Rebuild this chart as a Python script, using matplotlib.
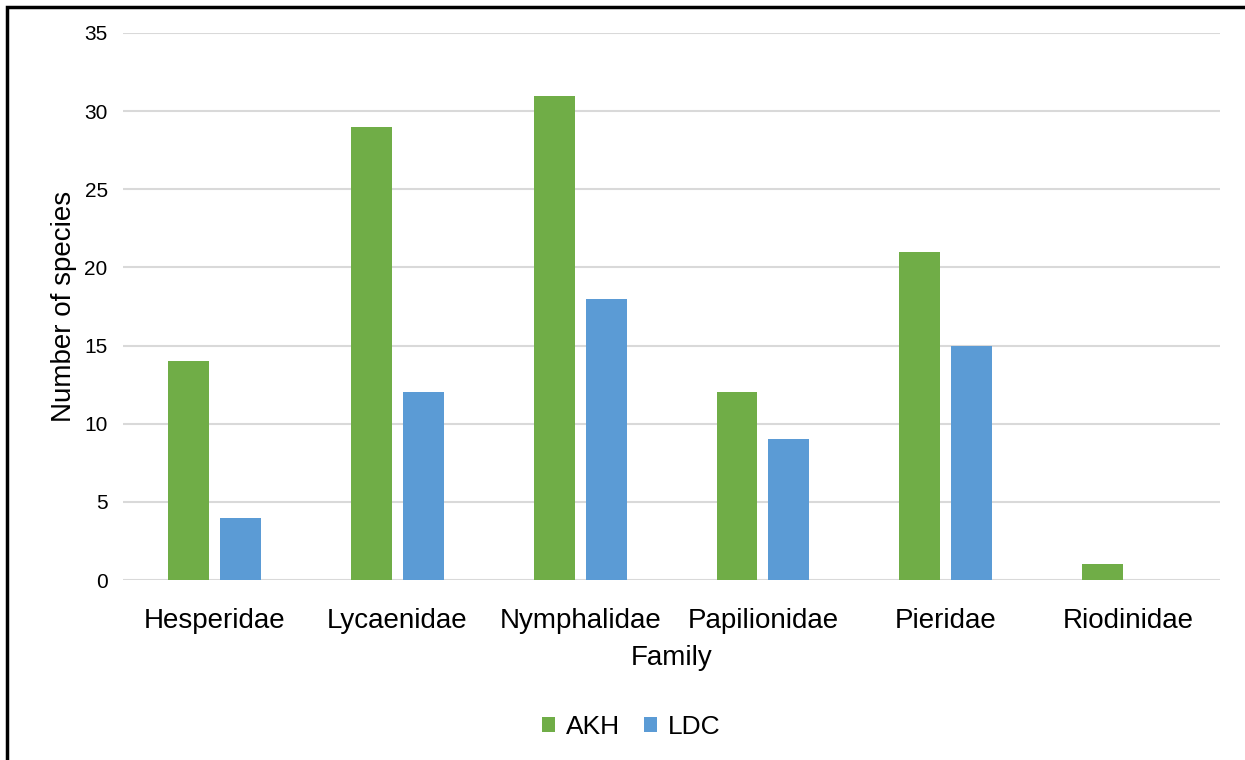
import matplotlib
matplotlib.use("Agg")
import matplotlib.pyplot as plt
import numpy as np
from matplotlib.patches import Rectangle

families = ['Hesperidae', 'Lycaenidae', 'Nymphalidae', 'Papilionidae', 'Pieridae', 'Riodinidae']
akh = [14, 29, 31, 12, 21, 1]
ldc = [4, 12, 18, 9, 15, 0]

plt.rcParams['font.family'] = ['Liberation Sans', 'DejaVu Sans']

fig = plt.figure(figsize=(12.45, 7.6), dpi=100)
ax = fig.add_axes([0.0988, 0.2368, 0.8812, 0.7198])

x = np.arange(len(families))
w = 0.224
off = 0.142
ax.bar(x - off, akh, w, color='#70AD47', label='AKH', zorder=3)
ax.bar(x + off, ldc, w, color='#5B9BD5', label='LDC', zorder=3)

ax.set_xlim(-0.5, len(families) - 0.5)
ax.set_ylim(0, 35)
ax.set_yticks(range(0, 36, 5))
ax.set_xticks(x)
ax.set_xticklabels(families, fontsize=20)
ax.tick_params(axis='y', labelsize=15, length=0, pad=11)
ax.tick_params(axis='x', length=0, pad=20)
ax.grid(axis='y', color='#D9D9D9', linewidth=1.5, zorder=0)
for s in ax.spines.values():
    s.set_visible(False)

ax.set_xlabel('Family', fontsize=20, labelpad=8)
ax.set_ylabel('Number of species', fontsize=20, labelpad=5)

fig.legend(loc='center', bbox_to_anchor=(0.507, 0.044), ncol=2, frameon=False,
           fontsize=19, handlelength=0.5, handleheight=0.5, handletextpad=0.4,
           columnspacing=0.9)

# outer frame of the original image (left and top edges visible)
fig.patches.append(Rectangle((7 / 1245, -0.1), 1.5, 1.1 - 7 / 760,
                             transform=fig.transFigure, fill=False,
                             edgecolor='black', linewidth=2.5))

fig.savefig('out.png', dpi=100)
